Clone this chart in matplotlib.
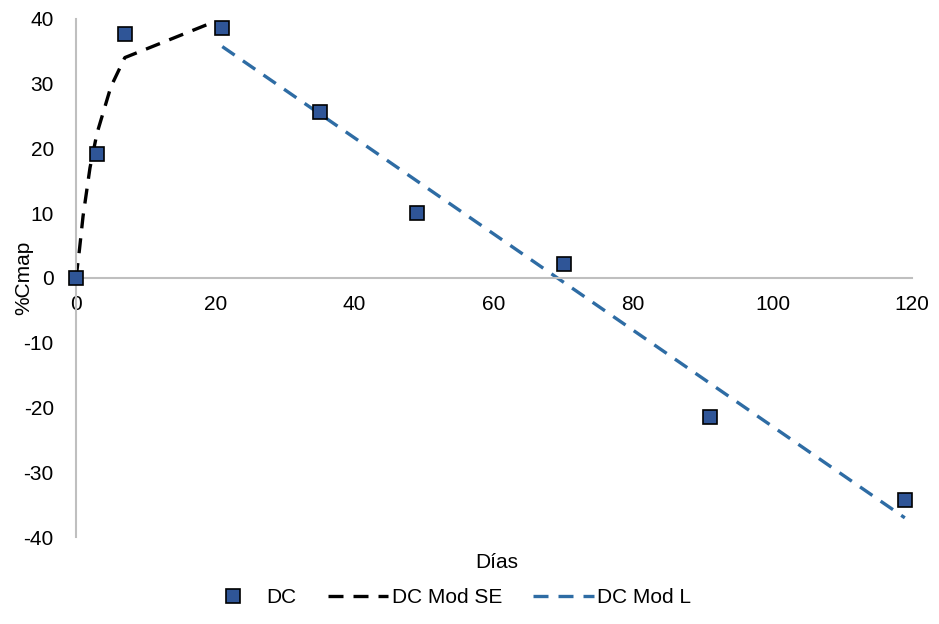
import matplotlib
matplotlib.use("Agg")
import matplotlib.pyplot as plt

plt.rcParams["font.family"] = ["Liberation Sans", "DejaVu Sans"]
plt.rcParams["axes.unicode_minus"] = False

# measured data
dc_days = [0, 3, 7, 21, 35, 49, 70, 91, 119]
dc_vals = [0, 19.2, 37.7, 38.6, 25.6, 10.1, 2.2, -21.5, -34.2]

# model SE (early phase)
se_days = [0, 0.5, 1, 2, 3, 5, 7, 20]
se_vals = [0, 4.5, 9.5, 17.0, 22.3, 29.5, 34.0, 39.6]

# model L (linear phase)
l_days = [21, 119]
l_vals = [35.7, -37.0]

FS = 15

fig = plt.figure(figsize=(9.39, 6.24), dpi=100)
ax = fig.add_axes([0.081, 0.139, 0.890, 0.831])

ax.plot(se_days, se_vals, color="black", lw=2.4, dashes=(4.5, 3), label="DC Mod SE",
        zorder=2)
ax.plot(l_days, l_vals, color="#2E6CA4", lw=2.4, dashes=(4.5, 3), label="DC Mod L",
        zorder=2)
ax.plot(dc_days, dc_vals, ls="none", marker="s", ms=10, mfc="#2F5597", mec="black",
        mew=1.2, label="DC", zorder=3, clip_on=False)

ax.set_xlim(0, 120)
ax.set_ylim(-40, 40)
ax.set_xticks(range(0, 121, 20))
ax.set_yticks(range(-40, 41, 10))

for s in ["top", "right"]:
    ax.spines[s].set_visible(False)
ax.spines["bottom"].set_position(("data", 0))
for s in ["bottom", "left"]:
    ax.spines[s].set_color("#BFBFBF")
    ax.spines[s].set_linewidth(1.5)
ax.tick_params(length=0, labelsize=FS)
ax.tick_params(axis="x", pad=12)
ax.tick_params(axis="y", pad=16)

ax.set_ylabel("%Cmap", fontsize=FS)
ax.yaxis.set_label_coords(-0.051, 0.5)
fig.text(0.529, 0.099, "Días", fontsize=FS, ha="center", va="center")

h, l = ax.get_legend_handles_labels()
order = [2, 0, 1]
fig.legend([h[i] for i in order], [l[i] for i in order], loc="center",
           bbox_to_anchor=(0.476, 0.042), ncol=3, frameon=False, fontsize=FS,
           handlelength=2.9, columnspacing=1.5, handletextpad=0.15)

fig.savefig("out.png", dpi=100)
